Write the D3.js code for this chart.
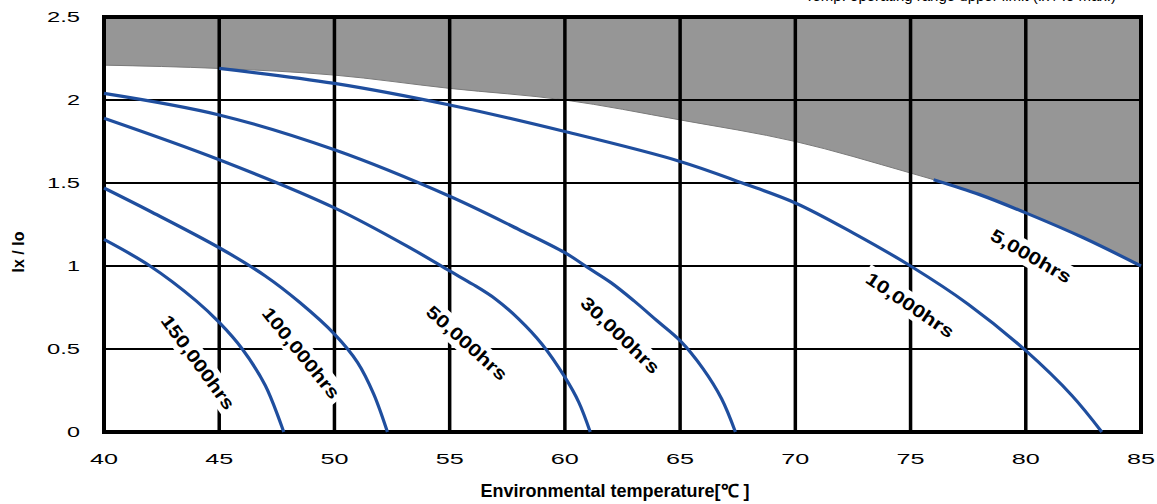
<!DOCTYPE html>
<html>
<head>
<meta charset="utf-8">
<script src="https://cdn.jsdelivr.net/npm/d3@7"></script>
<style>
  body { margin: 0; background: #fff; }
  text { font-family: "Liberation Sans", Arial, sans-serif; }
</style>
</head>
<body>
<div id="chart"></div>
<script>
// axis ticks
const tempTicks = [40, 45, 50, 55, 60, 65, 70, 75, 80, 85];
const ratioTicks = [0, 0.5, 1, 1.5, 2, 2.5];

// upper limit of operating area (grey zone lower edge)
const limitCurve = [[40, 2.21], [45, 2.19], [50, 2.15], [55, 2.07], [60, 2.0], [65, 1.88],
                    [70, 1.75], [75, 1.56], [76, 1.52], [78, 1.43], [80, 1.32], [82.5, 1.17], [85, 1.0]];

// life curves
const life150k = [[40, 1.16], [42, 1.0], [44, 0.79], [45, 0.66], [46, 0.5], [47, 0.28], [47.8, 0]];
const life100k = [[40, 1.47], [42, 1.33], [45, 1.11], [47, 0.94], [48.5, 0.78], [50, 0.59],
                  [51, 0.42], [51.7, 0.23], [52.3, 0]];
const life50k = [[40, 1.89], [45, 1.64], [50, 1.35], [53.4, 1.1], [55, 0.97], [56, 0.89],
                 [57, 0.8], [58, 0.68], [59, 0.53], [60, 0.33], [60.6, 0.18], [61.1, 0]];
const life30k = [[40, 2.04], [45, 1.91], [50, 1.7], [55, 1.42], [58, 1.22], [60, 1.08],
                 [61, 0.99], [62, 0.9], [63, 0.79], [64, 0.67], [65, 0.55], [66, 0.38],
                 [66.8, 0.2], [67.4, 0]];
const life10k = [[45, 2.19], [50, 2.1], [55, 1.97], [60, 1.81], [65, 1.63], [67.7, 1.5],
                 [70, 1.38], [72.5, 1.2], [75, 1.0], [77.5, 0.77], [80, 0.49], [82, 0.22], [83.3, 0]];
const life5k = [[76, 1.52], [78, 1.43], [80, 1.32], [82.5, 1.17], [85, 1.0]];

const lifeNames = ["150,000hrs", "100,000hrs", "50,000hrs", "30,000hrs", "10,000hrs", "5,000hrs"];
const lifeCurves = [life150k, life100k, life50k, life30k, life10k, life5k];

renderChart();

function renderChart() {
    const width = 1157;
    const height = 504;

    const x = d3.scaleLinear().domain([40, 85]).range([104, 1141]);
    const y = d3.scaleLinear().domain([0, 2.5]).range([432, 17]);

    const svg = d3.select('#chart').append('svg')
        .attr('width', width)
        .attr('height', height);

    // label placement (data coords + angle)
    const labelPos = [
        {t: 44.08, v: 0.42, a: 54, len: 112},
        {t: 48.55, v: 0.476, a: 51, len: 112},
        {t: 55.75, v: 0.536, a: 42, len: 102},
        {t: 62.4, v: 0.584, a: 44, len: 102},
        {t: 74.98, v: 0.765, a: 34, len: 102},
        {t: 80.23, v: 1.06, a: 30, len: 90}
    ];

    // heading, cut by the top edge like the original
    svg.append("text")
        .attr("x", 1116)
        .attr("y", 1)
        .attr("text-anchor", "end")
        .attr("font-size", 15)
        .attr("fill", "#000")
        .text("Temp. operating range upper limit (Ix / Io max.)");

    // grey area above the limit
    const area = d3.area()
        .x(d => x(d[0]))
        .y0(y(2.5))
        .y1(d => y(d[1]))
        .curve(d3.curveMonotoneX);

    svg.append("path")
        .datum(limitCurve)
        .attr("d", area)
        .attr("fill", "#969696");

    svg.append("path")
        .datum(limitCurve)
        .attr("d", d3.line().x(d => x(d[0])).y(d => y(d[1])).curve(d3.curveMonotoneX))
        .attr("fill", "none")
        .attr("stroke", "#7a7a7a")
        .attr("stroke-width", 1);

    // grid
    svg.append("g")
        .selectAll("line")
        .data(ratioTicks)
        .enter().append("line")
        .attr("x1", x(40)).attr("x2", x(85))
        .attr("y1", d => y(d)).attr("y2", d => y(d))
        .attr("stroke", "#000")
        .attr("stroke-width", 2);

    svg.append("g")
        .selectAll("line")
        .data(tempTicks)
        .enter().append("line")
        .attr("x1", d => x(d)).attr("x2", d => x(d))
        .attr("y1", y(0)).attr("y2", y(2.5))
        .attr("stroke", "#000")
        .attr("stroke-width", 3.5);

    // frame
    svg.append("rect")
        .attr("x", x(40)).attr("y", y(2.5))
        .attr("width", x(85) - x(40))
        .attr("height", y(0) - y(2.5))
        .attr("fill", "none")
        .attr("stroke", "#000")
        .attr("stroke-width", 4);

    // white knock-out behind labels
    const labels = svg.append("g");
    labelPos.forEach((p, i) => {
        labels.append("rect")
            .attr("transform", `translate(${x(p.t)},${y(p.v)}) rotate(${p.a})`)
            .attr("x", -p.len / 2 - 4)
            .attr("y", -12)
            .attr("width", p.len + 8)
            .attr("height", 24)
            .attr("fill", "#fff");
    });

    // life curves
    const line = d3.line()
        .x(d => x(d[0]))
        .y(d => y(d[1]))
        .curve(d3.curveCatmullRom.alpha(0.5));

    svg.append("g")
        .selectAll("path")
        .data(lifeCurves)
        .enter().append("path")
        .attr("d", line)
        .attr("fill", "none")
        .attr("stroke", "#1f4e9e")
        .attr("stroke-width", 3.2);

    labelPos.forEach((p, i) => {
        labels.append("text")
            .attr("transform", `translate(${x(p.t)},${y(p.v)}) rotate(${p.a})`)
            .attr("text-anchor", "middle")
            .attr("dy", "0.35em")
            .attr("font-size", 18)
            .attr("font-weight", "bold")
            .attr("textLength", p.len)
            .attr("lengthAdjust", "spacingAndGlyphs")
            .text(lifeNames[i]);
    });

    // tick labels (stretched look of original)
    svg.append("g")
        .selectAll("text")
        .data(tempTicks)
        .enter().append("text")
        .attr("x", d => x(d))
        .attr("y", 459)
        .attr("dy", "0.35em")
        .attr("text-anchor", "middle")
        .attr("font-size", 15)
        .attr("textLength", 28)
        .attr("lengthAdjust", "spacingAndGlyphs")
        .text(d => d);

    svg.append("g")
        .selectAll("text")
        .data(ratioTicks)
        .enter().append("text")
        .attr("x", 80)
        .attr("y", d => y(d))
        .attr("dy", "0.35em")
        .attr("text-anchor", "end")
        .attr("font-size", 15)
        .attr("textLength", d => String(d).length > 1 ? 33 : 13)
        .attr("lengthAdjust", "spacingAndGlyphs")
        .text(d => d);

    // axis titles
    svg.append("text")
        .attr("x", 615)
        .attr("y", 497)
        .attr("text-anchor", "middle")
        .attr("font-size", 18)
        .attr("font-weight", "bold")
        .text("Environmental temperature[℃ ]");

    svg.append("text")
        .attr("transform", "translate(24,252) rotate(-90)")
        .attr("text-anchor", "middle")
        .attr("font-size", 16)
        .attr("font-weight", "bold")
        .text("Ix / Io");
}
</script>
</body>
</html>
